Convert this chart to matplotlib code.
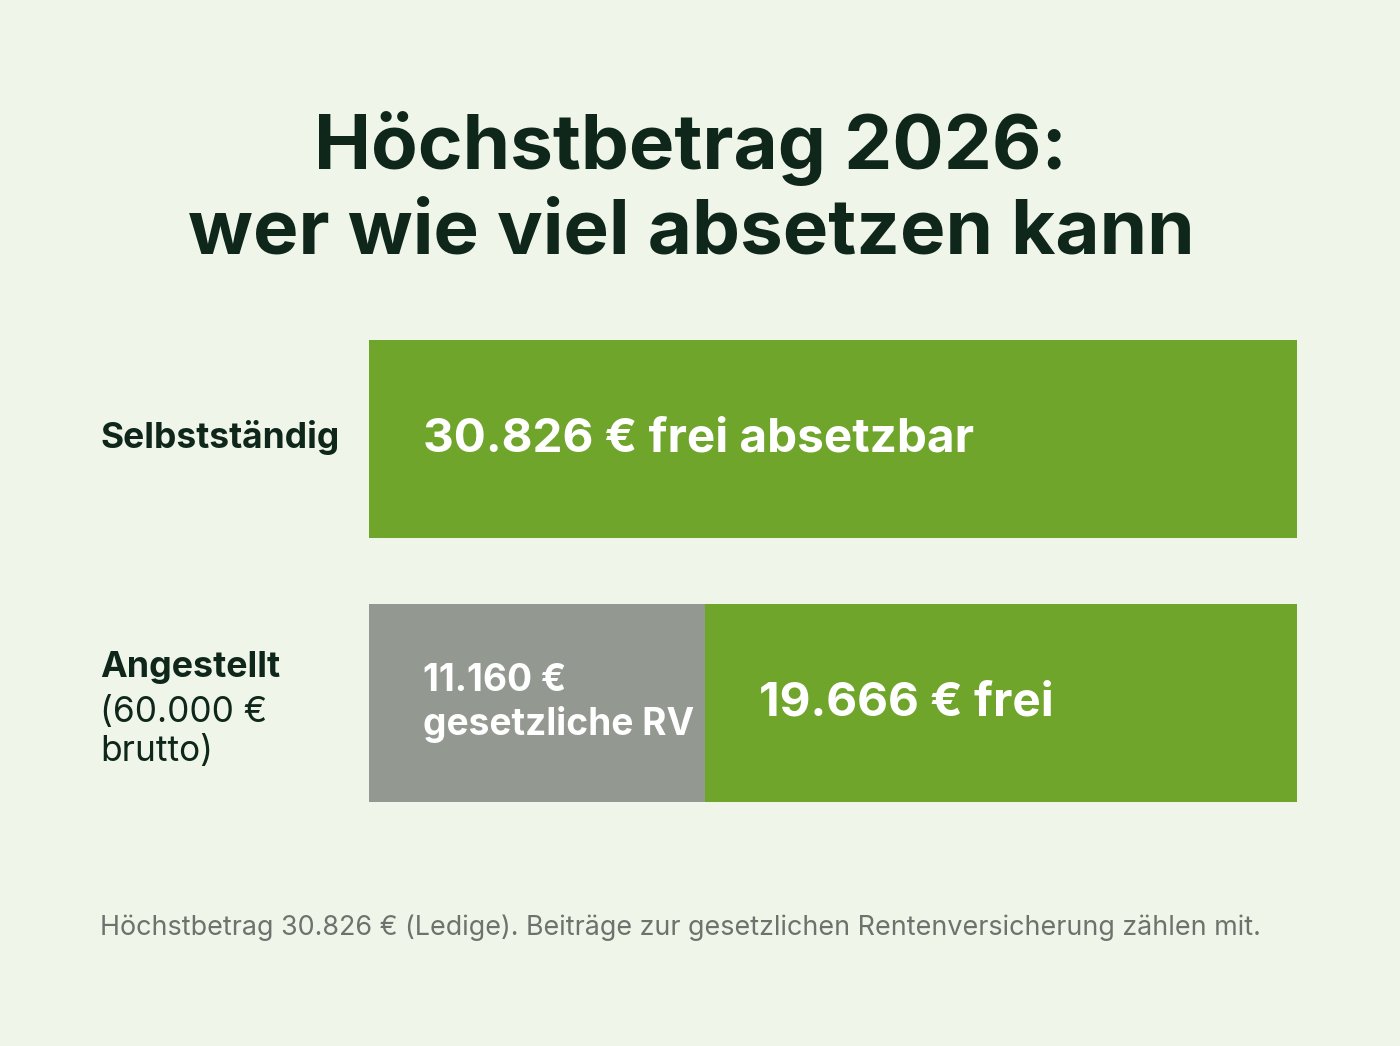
import matplotlib.pyplot as plt
from matplotlib.transforms import offset_copy

plt.rcParams['font.family'] = ['Inter', 'DejaVu Sans']

# data
categories = ['Selbstständig', 'Angestellt']
rv_values = [0, 11160]          # gesetzliche RV
free_values = [30826, 19666]    # frei absetzbar
bar_texts = ['30.826 € frei absetzbar', '19.666 € frei']
rv_text = '11.160 €\ngesetzliche RV'
title = 'Höchstbetrag 2026:\nwer wie viel absetzen kann'
footer = 'Höchstbetrag 30.826 € (Ledige). Beiträge zur gesetzlichen Rentenversicherung zählen mit.'

bg = '#eff5e9'
green = '#6fa52b'
gray = '#939991'
dark = '#0f261a'

W, H = 1400, 1046
fig = plt.figure(figsize=(W / 100, H / 100), dpi=100, facecolor=bg)

# axes covering the bar area
ax = fig.add_axes([369 / W, 1 - 802 / H, 928 / W, 462 / H])
ax.set_facecolor(bg)
ypos = [0, 1]
ax.barh(ypos, rv_values, height=0.75, color=gray, linewidth=0)
ax.barh(ypos, free_values, left=rv_values, height=0.75, color=green, linewidth=0)
ax.set_xlim(0, rv_values[0] + free_values[0])
ax.set_ylim(1.375, -0.375)
ax.axis('off')

for i in range(len(categories)):
    tr = offset_copy(ax.transData, fig=fig, x=54, y=0, units='dots')
    ax.text(rv_values[i], ypos[i], bar_texts[i], transform=tr, color='white',
            fontsize=34.3, fontweight='bold', va='center', ha='left')
tr = offset_copy(ax.transData, fig=fig, x=54, y=0, units='dots')
ax.text(0, ypos[1], rv_text, transform=tr, color='white', fontsize=26.7,
        fontweight='bold', va='center', ha='left', linespacing=1.25)

# title
fig.text(0.4935, 1 - 190 / H, title, ha='center', va='center', fontsize=55,
         fontweight='bold', color=dark, linespacing=1.22)

# category labels
fig.text(100 / W, 1 - 437 / H, categories[0], ha='left', va='center',
         fontsize=25.5, fontweight='bold', color=dark)
fig.text(100 / W, 1 - 668 / H, categories[1], ha='left', va='center',
         fontsize=25.8, fontweight='bold', color=dark)
fig.text(100 / W, 1 - 732 / H, '(60.000 €\nbrutto)', ha='left', va='center',
         fontsize=25.4, color=dark, linespacing=1.2)

# footer
fig.text(100 / W, 1 - 928 / H, footer, ha='left', va='center',
         fontsize=19.35, color='#6e726d')

fig.savefig('out.png', dpi=100, facecolor=bg)
